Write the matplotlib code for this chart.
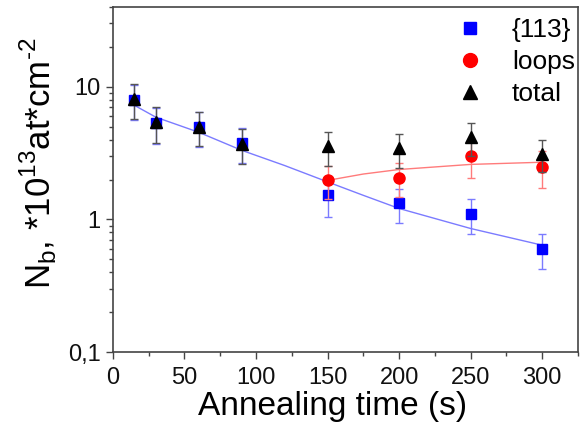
import matplotlib
matplotlib.use("Agg")
import matplotlib.pyplot as plt
from matplotlib.lines import Line2D
from matplotlib.ticker import FixedLocator, FixedFormatter, LogLocator, NullFormatter, MultipleLocator

plt.rcParams['font.family'] = ['Liberation Sans', 'DejaVu Sans']

# Data
time = [15, 30, 60, 90, 150, 200, 250, 300]
n113 = [8.0, 5.3, 4.95, 3.75, 1.52, 1.32, 1.10, 0.60]
n113_err = [2.4, 1.6, 1.45, 1.1, 0.47, 0.38, 0.32, 0.18]

loop_time = [150, 200, 250, 300]
loops = [1.97, 2.07, 3.0, 2.5]
loops_err = [0.55, 0.6, 0.93, 0.77]

total = [8.1, 5.4, 5.0, 3.7, 3.55, 3.43, 4.15, 3.14]
total_err = [2.4, 1.6, 1.45, 1.1, 1.0, 1.0, 1.15, 0.85]

fit113_t = [15, 30, 60, 90, 120, 150, 175, 200, 250, 300]
fit113_v = [7.25, 5.9, 4.54, 3.32, 2.55, 1.92, 1.52, 1.21, 0.855, 0.64]

fitloop_t = [150, 175, 200, 250, 300]
fitloop_v = [1.97, 2.2, 2.38, 2.6, 2.7]

labels = ['{113}', 'loops', 'total']

fig = plt.figure(figsize=(5.85, 4.30), dpi=100)
ax = fig.add_axes([0.193, 0.181, 0.795, 0.803])

blue = '#0000ff'
red = '#ff0000'
lblue = '#7b7bff'
lred = '#ff7b7b'

ax.plot(fit113_t, fit113_v, color=lblue, lw=1.0, zorder=2)
ax.plot(fitloop_t, fitloop_v, color=lred, lw=1.0, zorder=2)

ax.errorbar(time, n113, yerr=n113_err, fmt='s', color=blue, ms=7.5,
            ecolor=lblue, elinewidth=1.0, capsize=3, capthick=1.0, zorder=3)
ax.errorbar(loop_time, loops, yerr=loops_err, fmt='o', color=red, ms=8,
            ecolor=lred, elinewidth=1.0, capsize=3, capthick=1.0, zorder=4)
ax.errorbar(time, total, yerr=total_err, fmt='^', color='black', ms=9,
            ecolor='#555555', elinewidth=1.0, capsize=3, capthick=1.0, zorder=5)

ax.set_yscale('log')
ax.set_ylim(0.1, 40)
ax.set_xlim(0, 325)

ax.yaxis.set_major_locator(FixedLocator([0.1, 1, 10]))
ax.yaxis.set_major_formatter(FixedFormatter(['0,1', '1', '10']))
ax.yaxis.set_minor_locator(LogLocator(base=10, subs=range(2, 10), numticks=20))
ax.yaxis.set_minor_formatter(NullFormatter())

ax.xaxis.set_major_locator(MultipleLocator(50))
ax.xaxis.set_minor_locator(MultipleLocator(25))

for s in ax.spines.values():
    s.set_color('#444444')
    s.set_linewidth(1.2)

ax.tick_params(which='major', direction='out', length=5, width=1.0,
               colors='#444444', labelcolor='#111111', labelsize=17)
ax.tick_params(axis='x', which='major', pad=6)
ax.tick_params(axis='y', which='major', pad=4)
ax.tick_params(which='minor', direction='out', length=3, width=1.0,
               colors='#444444')
ax.tick_params(top=False, right=False, which='both')

ax.set_xlabel('Annealing time (s)', fontsize=24, labelpad=1, x=0.473)
ax.set_ylabel('N$_\\mathregular{b}$, *10$^\\mathregular{13}$at*cm$^\\mathregular{\u20102}$',
              fontsize=25, labelpad=6, y=0.548)

handles = [
    Line2D([], [], marker='s', ls='none', color=blue, ms=9),
    Line2D([], [], marker='o', ls='none', color=red, ms=10),
    Line2D([], [], marker='^', ls='none', color='black', ms=10.5),
]
leg = ax.legend(handles, labels, loc='upper right', bbox_to_anchor=(1.005, 0.983),
                frameon=False, fontsize=19, handletextpad=0.8,
                borderaxespad=0.0, labelspacing=0.3, handlelength=1.6,
                borderpad=0.2)

fig.savefig('out.png', dpi=100)
